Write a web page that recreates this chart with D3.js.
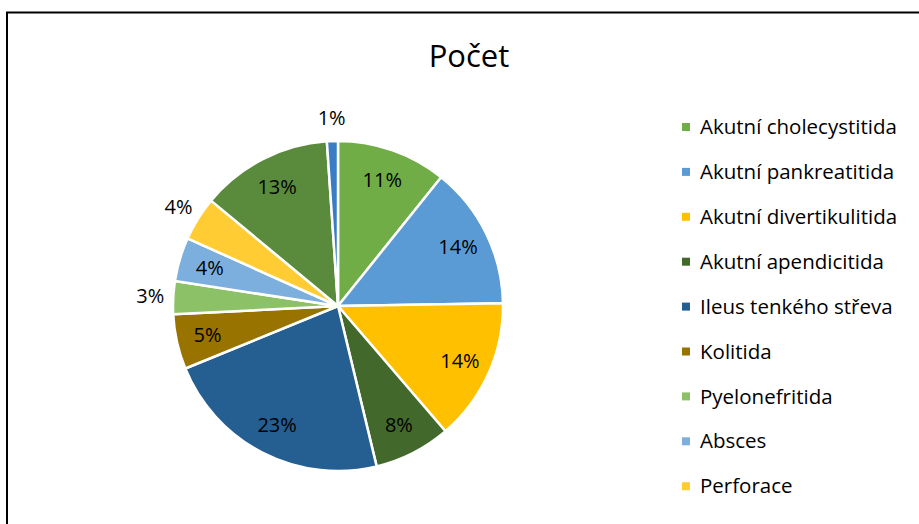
<!DOCTYPE html>
<html>
<head>
<meta charset="utf-8">
<script src="https://cdn.jsdelivr.net/npm/d3@7"></script>
<style>
  html, body { margin: 0; padding: 0; background: #fff; }
  svg { display: block; }
  text { font-family: "Open Sans", sans-serif; fill: #000; }
</style>
</head>
<body>
<svg width="919" height="524"></svg>
<script>
const categories = [
  "Akutní cholecystitida",
  "Akutní pankreatitida",
  "Akutní divertikulitida",
  "Akutní apendicitida",
  "Ileus tenkého střeva",
  "Kolitida",
  "Pyelonefritida",
  "Absces",
  "Perforace",
  "Ostatní",
  "Hernie",
];
const counts = [10, 13, 13, 7, 21, 5, 3, 4, 4, 12, 1];
const colors = [
  "#70AD47", "#5B9BD5", "#FFC000", "#43682B", "#255E91", "#997300",
  "#8CC168", "#7CAFDD", "#FFCD33", "#5A8A3B", "#3A7DC4",
];
// labels placed outside the pie (Excel "best fit")
const outsideLabels = ["Pyelonefritida", "Perforace", "Hernie"];

const width = 919, height = 524;
const svg = d3.select("svg");
const cx = 338, cy = 306, radius = 165;

// chart frame (runs off the right and bottom of the picture)
svg.append("rect")
  .attr("x", 7).attr("y", 12.5)
  .attr("width", 1000).attr("height", 600)
  .attr("fill", "none").attr("stroke", "#000").attr("stroke-width", 2);

svg.append("text")
  .attr("x", 469).attr("y", 67)
  .attr("text-anchor", "middle")
  .attr("font-size", 31)
  .text("Počet");

const total = d3.sum(counts);
const pie = d3.pie().sort(null).value((d) => d.value);
const arcs = pie(categories.map((name, i) => ({ name, value: counts[i] })));
const arc = d3.arc().innerRadius(0).outerRadius(radius);
const inner = d3.arc().innerRadius(radius * 0.81).outerRadius(radius * 0.81);
const outer = d3.arc().innerRadius(radius + 23).outerRadius(radius + 23);
const color = d3.scaleOrdinal().domain(categories).range(colors);

const g = svg.append("g").attr("transform", `translate(${cx}, ${cy})`);

g.selectAll("path")
  .data(arcs)
  .enter()
  .append("path")
  .attr("d", arc)
  .attr("fill", (d) => color(d.data.name))
  .attr("stroke", "#fff")
  .attr("stroke-width", 2.5)
  .attr("stroke-linejoin", "round");

g.selectAll("text.pct")
  .data(arcs)
  .enter()
  .append("text")
  .attr("class", "pct")
  .attr("transform", (d) => {
    const [x, y] = (outsideLabels.includes(d.data.name) ? outer : inner).centroid(d);
    return `translate(${x}, ${y})`;
  })
  .attr("text-anchor", "middle")
  .attr("dy", "0.35em")
  .attr("font-size", 20)
  .text((d) => `${Math.round((d.value / total) * 100)}%`);

// legend - only the entries that fit inside the visible area
const rowH = 44.9, legendTop = 127;
const legendItems = categories.filter((d, i) => legendTop + i * rowH + 12 < height);

const legend = svg.append("g")
  .selectAll("g")
  .data(legendItems)
  .enter()
  .append("g")
  .attr("transform", (d, i) => `translate(682, ${legendTop + i * rowH})`);

legend.append("rect")
  .attr("x", 0).attr("y", -4)
  .attr("width", 8).attr("height", 8)
  .attr("fill", (d) => color(d));

legend.append("text")
  .attr("x", 18)
  .attr("dy", "0.35em")
  .attr("font-size", 20.5)
  .text((d) => d);
</script>
</body>
</html>
